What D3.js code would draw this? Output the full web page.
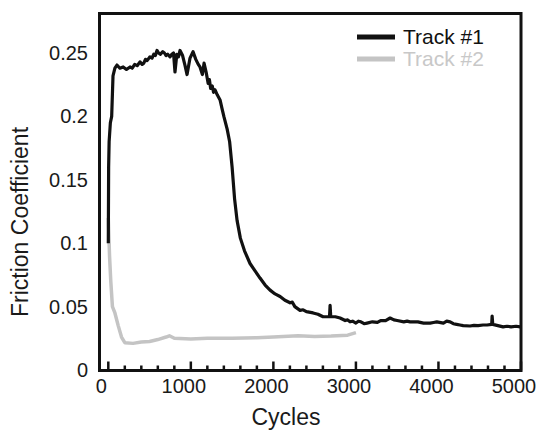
<!DOCTYPE html>
<html>
<head>
<meta charset="utf-8">
<script src="https://cdn.jsdelivr.net/npm/d3@7"></script>
<style>
  body { margin: 0; background: #fff; }
  text { font-family: "Liberation Sans", Arial, sans-serif; }
</style>
</head>
<body>
<div id="chart"></div>
<script>
// track #1 (black) : [cycles, friction]
var track1 = [
    [0, 0.10], [4, 0.16], [10, 0.18], [25, 0.195], [41, 0.20], [57, 0.232], [80, 0.238],
    [105, 0.2405], [140, 0.238], [180, 0.239], [220, 0.237], [263, 0.239], [290, 0.238],
    [320, 0.241], [350, 0.240], [384, 0.243], [410, 0.241], [430, 0.242], [450, 0.245],
    [470, 0.244], [505, 0.247], [530, 0.246], [550, 0.249], [570, 0.248], [590, 0.252],
    [610, 0.250], [630, 0.249], [660, 0.251], [680, 0.250], [700, 0.248], [720, 0.249],
    [748, 0.247], [770, 0.249], [790, 0.250], [808, 0.235], [830, 0.249], [850, 0.247],
    [869, 0.252], [900, 0.248], [930, 0.240], [954, 0.233], [990, 0.246], [1027, 0.251],
    [1060, 0.245], [1090, 0.241], [1111, 0.239], [1140, 0.233], [1160, 0.242], [1185, 0.235],
    [1210, 0.226], [1225, 0.229], [1240, 0.222], [1260, 0.224], [1275, 0.219], [1293, 0.221],
    [1320, 0.217], [1354, 0.213], [1375, 0.207], [1400, 0.200], [1440, 0.190], [1470, 0.180],
    [1500, 0.160], [1530, 0.135], [1560, 0.118], [1600, 0.104], [1650, 0.094], [1717, 0.084],
    [1780, 0.078], [1838, 0.0725], [1900, 0.067], [1960, 0.063], [2020, 0.060], [2081, 0.058],
    [2140, 0.055], [2202, 0.053], [2230, 0.0535], [2260, 0.050], [2323, 0.047], [2360, 0.0475],
    [2400, 0.046], [2481, 0.045], [2540, 0.044], [2602, 0.042], [2680, 0.042], [2687, 0.051],
    [2695, 0.042], [2750, 0.042], [2808, 0.041], [2870, 0.039], [2900, 0.0395], [2929, 0.038],
    [2960, 0.0385], [3000, 0.037], [3030, 0.0385], [3060, 0.038], [3100, 0.0365], [3135, 0.037],
    [3200, 0.038], [3260, 0.0375], [3300, 0.039], [3360, 0.039], [3414, 0.041], [3460, 0.0395],
    [3500, 0.039], [3580, 0.038], [3620, 0.0385], [3656, 0.038], [3750, 0.038], [3820, 0.037],
    [3899, 0.037], [3940, 0.0375], [3980, 0.038], [4060, 0.037], [4100, 0.0385], [4141, 0.038],
    [4180, 0.0365], [4220, 0.036], [4260, 0.0355], [4300, 0.035], [4383, 0.0347], [4430, 0.0352],
    [4480, 0.035], [4540, 0.0355], [4589, 0.0355], [4645, 0.036], [4650, 0.0426], [4658, 0.036],
    [4720, 0.035], [4783, 0.034], [4830, 0.0345], [4880, 0.034], [4940, 0.0345], [4990, 0.034]
];

// track #2 (grey)
var track2 = [
    [0, 0.12], [15, 0.09], [30, 0.07], [50, 0.05], [80, 0.045], [120, 0.035], [160, 0.026],
    [200, 0.0215], [300, 0.021], [400, 0.022], [500, 0.0225], [600, 0.024], [700, 0.026],
    [740, 0.027], [800, 0.025], [1000, 0.0245], [1200, 0.025], [1500, 0.025], [1800, 0.0255],
    [2000, 0.026], [2300, 0.027], [2500, 0.0265], [2700, 0.0268], [2900, 0.0275], [3000, 0.0295]
];

var xTicks = [0, 1000, 2000, 3000, 4000, 5000];
var xMinor = d3.range(0, 5001, 200);
var yTicks = [0, 0.05, 0.1, 0.15, 0.2, 0.25];
var seriesNames = ["Track #1", "Track #2"];
var seriesColors = ["#111111", "#c4c4c4"];

function drawChart() {
    var w = 541;
    var h = 431;

    var box = {left: 99.5, right: 521, top: 13.5, bottom: 370.5};

    var x = d3.scaleLinear().domain([0, 5000]).range([108.3, 521]);
    var y = d3.scaleLinear().domain([0, 0.25]).range([370, 53]);

    var svg = d3.select("#chart")
        .append("svg")
        .attr("width", w)
        .attr("height", h);

    // series lines
    var line = d3.line()
        .x(function (d) { return x(d[0]); })
        .y(function (d) { return y(d[1]); });

    svg.append("path")
        .datum(track2)
        .attr("d", line)
        .attr("fill", "none")
        .attr("stroke", seriesColors[1])
        .attr("stroke-width", 3.5)
        .attr("stroke-linejoin", "round");

    svg.append("path")
        .datum(track1)
        .attr("d", line)
        .attr("fill", "none")
        .attr("stroke", seriesColors[0])
        .attr("stroke-width", 3.2)
        .attr("stroke-linejoin", "round");

    // frame
    svg.append("rect")
        .attr("x", box.left)
        .attr("y", box.top)
        .attr("width", box.right - box.left)
        .attr("height", box.bottom - box.top)
        .attr("fill", "none")
        .attr("stroke", "#111")
        .attr("stroke-width", 3);

    // x ticks (pointing inward)
    svg.selectAll(".minor")
        .data(xMinor)
        .enter()
        .append("line")
        .attr("x1", function (d) { return x(d); })
        .attr("x2", function (d) { return x(d); })
        .attr("y1", box.bottom)
        .attr("y2", function (d) { return d % 1000 == 0 ? box.bottom - 9 : box.bottom - 5; })
        .attr("stroke", "#111")
        .attr("stroke-width", 2.5);

    svg.selectAll(".xlab")
        .data(xTicks)
        .enter()
        .append("text")
        .attr("x", function (d) { return x(d) - 7; })
        .attr("y", 393)
        .attr("text-anchor", "middle")
        .attr("font-size", 20)
        .attr("fill", "#1a1a1a")
        .text(function (d) { return d; });

    svg.selectAll(".ylab")
        .data(yTicks)
        .enter()
        .append("text")
        .attr("x", 88)
        .attr("y", function (d) { return y(d) + 7; })
        .attr("text-anchor", "end")
        .attr("font-size", 20)
        .attr("fill", "#1a1a1a")
        .text(function (d) { return d; });

    // axis titles
    svg.append("text")
        .attr("x", 286)
        .attr("y", 425)
        .attr("text-anchor", "middle")
        .attr("font-size", 23)
        .attr("fill", "#1a1a1a")
        .text("Cycles");

    svg.append("text")
        .attr("transform", "translate(28,222) rotate(-90)")
        .attr("text-anchor", "middle")
        .attr("font-size", 23)
        .attr("fill", "#1a1a1a")
        .text("Friction Coefficient");

    // legend
    var legend = svg.selectAll(".legend")
        .data(seriesNames)
        .enter()
        .append("g")
        .attr("transform", function (d, i) { return "translate(357," + (37 + i * 22) + ")"; });

    legend.append("line")
        .attr("x1", 0)
        .attr("x2", 38)
        .attr("stroke", function (d, i) { return seriesColors[i]; })
        .attr("stroke-width", 5);

    legend.append("text")
        .attr("x", 46)
        .attr("y", 7)
        .attr("font-size", 21)
        .attr("fill", function (d, i) { return i == 0 ? "#111" : "#c8c8c8"; })
        .text(function (d) { return d; });
}

window.onload = drawChart;
</script>
</body>
</html>
